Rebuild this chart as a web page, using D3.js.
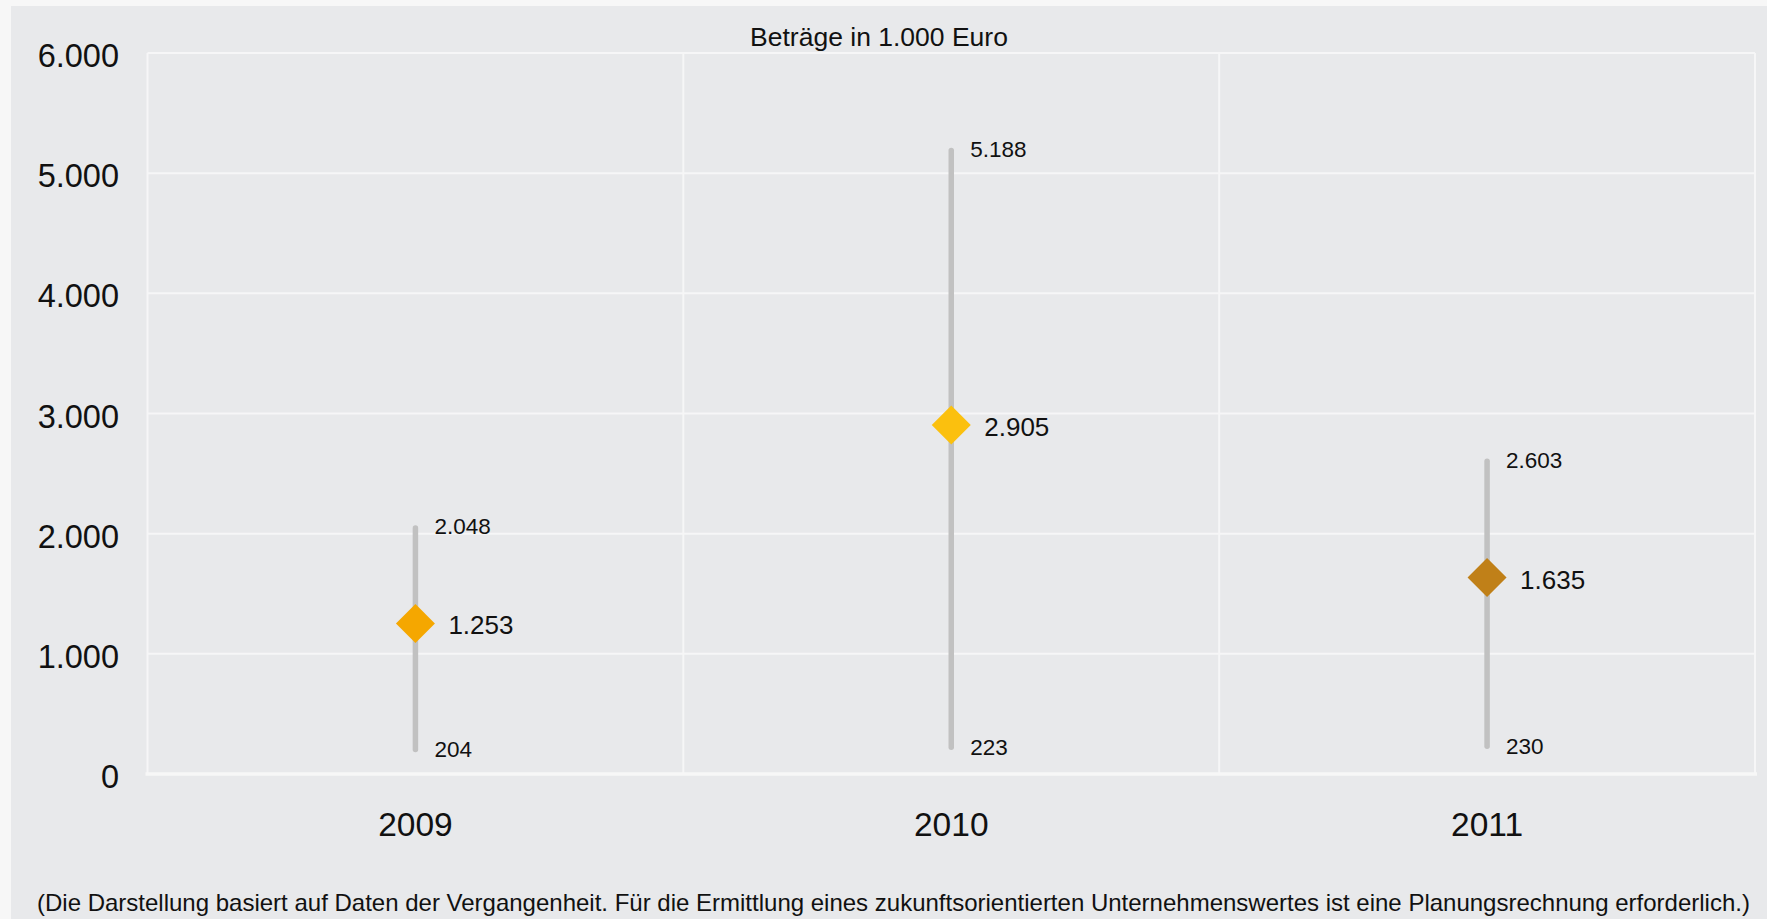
<!DOCTYPE html>
<html>
<head>
<meta charset="utf-8">
<script src="https://cdn.jsdelivr.net/npm/d3@7"></script>
<style>
  body { margin: 0; background: #f7f7f7; }
  text { font-family: "Liberation Sans", Arial, sans-serif; fill: #111; }
</style>
</head>
<body>
<div id="chart"></div>
<script>
// Data (Beträge in 1.000 Euro)
const years = ["2009", "2010", "2011"];
const lowValues = [204, 223, 230];
const highValues = [2048, 5188, 2603];
const midValues = [1253, 2905, 1635];
const diamondColors = ["#f5a700", "#fbc00e", "#c08018"];
const yTicks = [0, 1000, 2000, 3000, 4000, 5000, 6000];

const width = 1767;
const height = 919;
const plot = { left: 147.5, right: 1755, top: 53, bottom: 774 };

const svg = d3
  .select("#chart")
  .append("svg")
  .attr("width", width)
  .attr("height", height);

// panel background
svg.append("rect")
  .attr("x", 11).attr("y", 6)
  .attr("width", width - 11).attr("height", height - 6)
  .attr("fill", "#e8e9eb");

const x = d3.scaleBand().domain(years).range([plot.left, plot.right]).padding(0);
const y = d3.scaleLinear().domain([0, 6000]).range([plot.bottom, plot.top]);

const fmt = (v) => d3.format(",")(v).replace(/,/g, ".");

// horizontal grid lines
svg.append("g")
  .selectAll("line")
  .data(yTicks.filter((d) => d > 0))
  .join("line")
  .attr("x1", plot.left).attr("x2", plot.right)
  .attr("y1", (d) => y(d)).attr("y2", (d) => y(d))
  .attr("stroke", "#f6f6f7")
  .attr("stroke-width", 2);

// vertical separators between categories + frame edges
const vLines = [plot.left].concat(years.slice(1).map((d) => x(d)), [plot.right]);
svg.append("g")
  .selectAll("line")
  .data(vLines)
  .join("line")
  .attr("x1", (d) => d).attr("x2", (d) => d)
  .attr("y1", plot.top).attr("y2", plot.bottom)
  .attr("stroke", "#f6f6f7")
  .attr("stroke-width", 2);

// baseline
svg.append("line")
  .attr("x1", plot.left - 2).attr("x2", plot.right + 2)
  .attr("y1", y(0)).attr("y2", y(0))
  .attr("stroke", "#f7f7f7")
  .attr("stroke-width", 3.5);

// y axis labels
svg.append("g")
  .selectAll("text")
  .data(yTicks)
  .join("text")
  .attr("x", 119)
  .attr("y", (d) => y(d) + 3)
  .attr("text-anchor", "end")
  .attr("dominant-baseline", "central")
  .style("font-size", "32.5px")
  .text(fmt);

// x axis labels
svg.append("g")
  .selectAll("text")
  .data(years)
  .join("text")
  .attr("x", (d) => x(d) + x.bandwidth() / 2)
  .attr("y", 836)
  .attr("text-anchor", "middle")
  .style("font-size", "33.5px")
  .text((d) => d);

// title
svg.append("text")
  .attr("x", 879)
  .attr("y", 46)
  .attr("text-anchor", "middle")
  .style("font-size", "26.5px")
  .text("Beträge in 1.000 Euro");

const rows = years.map((yr, i) => ({
  year: yr, low: lowValues[i], high: highValues[i], mid: midValues[i], color: diamondColors[i]
}));
const cx = (d) => x(d.year) + x.bandwidth() / 2;

const g = svg.append("g");

// range lines
g.selectAll(".range")
  .data(rows)
  .join("line")
  .attr("class", "range")
  .attr("x1", cx).attr("x2", cx)
  .attr("y1", (d) => y(d.low)).attr("y2", (d) => y(d.high))
  .attr("stroke", "#c1c1c1")
  .attr("stroke-width", 5.5)
  .attr("stroke-linecap", "round");

// diamonds
const diamond = d3.symbol().type(d3.symbolSquare).size(760);
g.selectAll(".mid")
  .data(rows)
  .join("path")
  .attr("class", "mid")
  .attr("d", diamond)
  .attr("transform", (d) => `translate(${cx(d)},${y(d.mid)}) rotate(45)`)
  .attr("fill", (d) => d.color);

// labels
g.selectAll(".lblHigh")
  .data(rows)
  .join("text")
  .attr("class", "lblHigh")
  .attr("x", (d) => cx(d) + 19)
  .attr("y", (d) => y(d.high) - 1)
  .attr("dominant-baseline", "central")
  .style("font-size", "22.5px")
  .text((d) => fmt(d.high));

g.selectAll(".lblLow")
  .data(rows)
  .join("text")
  .attr("class", "lblLow")
  .attr("x", (d) => cx(d) + 19)
  .attr("y", (d) => y(d.low))
  .attr("dominant-baseline", "central")
  .style("font-size", "22.5px")
  .text((d) => fmt(d.low));

g.selectAll(".lblMid")
  .data(rows)
  .join("text")
  .attr("class", "lblMid")
  .attr("x", (d) => cx(d) + 33)
  .attr("y", (d) => y(d.mid) + 2)
  .attr("dominant-baseline", "central")
  .style("font-size", "26px")
  .text((d) => fmt(d.mid));

// footnote
svg.append("text")
  .attr("x", 37)
  .attr("y", 911)
  .style("font-size", "24px")
  .text("(Die Darstellung basiert auf Daten der Vergangenheit. Für die Ermittlung eines zukunftsorientierten Unternehmenswertes ist eine Planungsrechnung erforderlich.)");
</script>
</body>
</html>
